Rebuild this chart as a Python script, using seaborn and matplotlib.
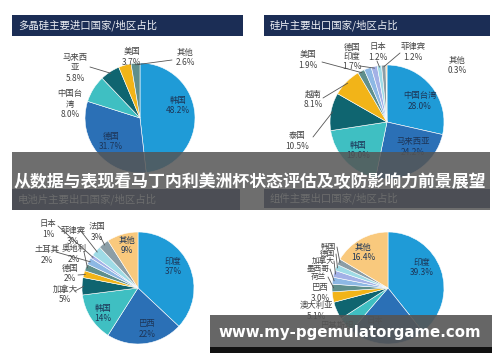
import matplotlib
matplotlib.use("Agg")
import numpy as np
import matplotlib.pyplot as plt
import seaborn as sns
from matplotlib.patches import Rectangle
from matplotlib.lines import Line2D

sns.set_theme(style="white")
plt.rcParams["font.family"] = ["Noto Sans CJK SC", "DejaVu Sans"]

# ---- data ----
poly_labels = ["韩国", "德国", "中国台湾", "马来西亚", "美国", "其他"]
poly_values = [48.2, 31.7, 8.0, 5.8, 3.7, 2.6]

wafer_labels = ["中国台湾", "马来西亚", "韩国", "泰国", "越南", "美国", "德国", "印度", "日本", "菲律宾", "其他"]
wafer_values = [28.0, 24.2, 19.0, 10.5, 8.1, 1.9, 2.0, 1.7, 1.2, 1.2, 0.3]

cell_labels = ["印度", "巴西", "韩国", "加拿大", "德国", "奥地利", "土耳其", "日本", "菲律宾", "法国", "其他"]
cell_values = [37, 22, 14, 5, 2, 2, 2, 1, 3, 3, 9]

module_labels = ["印度", "日本", "巴基斯坦", "澳大利亚", "巴西", "荷兰", "墨西哥", "加拿大", "德国", "韩国", "其他"]
module_values = [39.3, 22.0, 4.5, 5.1, 3.0, 2.2, 2.0, 2.0, 1.8, 1.7, 16.4]

titles = ["多晶硅主要进口国家/地区占比", "硅片主要出口国家/地区占比",
          "电池片主要出口国家/地区占比", "组件主要出口国家/地区占比"]

banner = "从数据与表现看马丁内利美洲杯状态评估及攻防影响力前景展望"
watermark = "www.my-pgemulatorgame.com"

palette = sns.color_palette(["#1f9bd7", "#2b70b6", "#3fbfc2", "#0f6570", "#f2b418",
                             "#5f8f8c", "#8db8e4", "#a3b1e6", "#9fdbe6", "#8c9ea6", "#f9c97d"])

W, H = 500, 362
fig = plt.figure(figsize=(W / 100, H / 100), dpi=100)
fig.patch.set_facecolor("white")


def fx(x):
    return x / W


def fy(y):
    return 1 - y / H


def draw_pie(values, cx, cy, r, colors):
    ax = fig.add_axes([fx(cx - 1.3 * r), fy(cy + 1.3 * r), 2.6 * r / W, 2.6 * r / H])
    wedges, _ = ax.pie(values, colors=colors, startangle=90, counterclock=False,
                       wedgeprops=dict(edgecolor="white", linewidth=0.4))
    ax.set_xlim(-1.3, 1.3)
    ax.set_ylim(-1.3, 1.3)
    ax.axis("off")
    return wedges


def edge_point(w, cx, cy, r):
    a = np.deg2rad((w.theta1 + w.theta2) / 2)
    return cx + r * np.cos(a), cy - r * np.sin(a)


def label(x, y, s, inside=False, size=6):
    fig.text(fx(x), fy(y), s, ha="center", va="center", fontsize=size,
             color="#1d3557" if inside else "#444444", linespacing=1.15, zorder=3)


def leader(x, y, w, cx, cy, r):
    ex, ey = edge_point(w, cx, cy, r * 0.97)
    fig.add_artist(Line2D([fx(x), fx(ex)], [fy(y), fy(ey)], transform=fig.transFigure,
                          color="#555555", lw=0.6, zorder=2))


# ---- pie 1 ----
c1 = (140, 118, 55)
w1 = draw_pie(poly_values, *c1, palette[:len(poly_values)])
pos1 = [(178, 105, True), (111, 141, True), (70, 104, False), (75, 68, False), (132, 57, False), (185, 57, False)]
for (x, y, ins), lab, v in zip(pos1, poly_labels, poly_values):
    txt = f"{lab}\n{v:.1f}%"
    if lab == "中国台湾":
        txt = f"中国台\n湾\n{v:.1f}%"
    if lab == "马来西亚":
        txt = f"马来西\n亚\n{v:.1f}%"
    label(x, y, txt, ins)
leader(90, 67, w1[3], *c1)
leader(172, 60, w1[5], *c1)

# ---- pie 2 ----
c2 = (387, 122, 57)
w2 = draw_pie(wafer_values, *c2, palette[:len(wafer_values)])
pos2 = [(420, 101, True), (413, 147, True), (358, 150, True), (297, 141, False), (313, 99, False),
        (308, 60, False), (352, 47, False), (352, 61, False), (378, 52, False), (413, 52, False), (457, 65, False)]
for (x, y, ins), lab, v in zip(pos2, wafer_labels, wafer_values):
    txt = lab if lab == "德国" else f"{lab}\n{v:.1f}%"
    label(x, y, txt, ins)
leader(313, 137, w2[3], *c2)
leader(323, 98, w2[4], *c2)
leader(322, 62, w2[5], *c2)
leader(360, 66, w2[7], *c2)
leader(377, 61, w2[8], *c2)
leader(400, 53, w2[9], *c2)

# ---- pie 3 ----
c3 = (138, 288, 56)
w3 = draw_pie(cell_values, *c3, palette[:len(cell_values)])
pos3 = [(173, 266, True), (147, 329, True), (103, 313, True), (65, 294, False), (70, 273, False),
        (74, 254, False), (47, 255, False), (48, 229, False), (73, 236, False), (97, 232, False), (127, 245, True)]
for (x, y, ins), lab, v in zip(pos3, cell_labels, cell_values):
    label(x, y, f"{lab}\n{v}%", ins)
for i, (sx, sy) in {3: (75, 291), 4: (78, 275), 5: (84, 252), 6: (56, 252),
                    7: (58, 226), 8: (80, 230), 9: (100, 236)}.items():
    leader(sx, sy, w3[i], *c3)

# ---- pie 4 ----
c4 = (388, 288, 56)
w4 = draw_pie(module_values, *c4, palette[:len(module_values)])
pos4 = [(422, 267, True), (375, 326, True), (338, 325, False), (316, 311, False), (320, 293, False),
        (318, 277, False), (318, 269, False), (323, 261, False), (327, 254, False), (328, 247, False),
        (363, 252, True)]
for (x, y, ins), lab, v in zip(pos4, module_labels, module_values):
    stacked = lab in ("荷兰", "墨西哥", "加拿大", "德国", "韩国")
    txt = f"{lab}\n{v:.1f}%" if lab in ("印度", "日本", "澳大利亚", "巴西", "其他") else lab
    label(x, y, txt, ins, size=5.5 if stacked else 6)
for i, (sx, sy) in {5: (328, 277), 6: (330, 269), 7: (334, 261), 8: (336, 254), 9: (337, 247)}.items():
    leader(sx, sy, w4[i], *c4)

# ---- title bars ----
bars = [(12, 15, 231, 21), (264, 15, 226, 21), (12, 189, 228, 21), (264, 189, 226, 19)]
for (x, y, w, h), t in zip(bars, titles):
    fig.add_artist(Rectangle((fx(x), fy(y + h)), w / W, h / H, transform=fig.transFigure,
                             facecolor="#1b2d55", edgecolor="none", zorder=2))
    fig.text(fx(x + 6), fy(y + h / 2), t, ha="left", va="center", fontsize=7.5,
             color="#eef0f5", zorder=3)

# ---- overlay banner ----
fig.add_artist(Rectangle((fx(12), fy(210)), 478 / W, 58 / H, transform=fig.transFigure,
                         facecolor="#555555", alpha=0.85, edgecolor="none", zorder=5))
fig.text(0.5, fy(182), banner, ha="center", va="center", fontsize=12.2, fontweight="bold",
         color="white", zorder=6)

# ---- watermark ----
fig.add_artist(Rectangle((fx(210), fy(347)), 282 / W, 32 / H, transform=fig.transFigure,
                         facecolor="#555555", alpha=0.9, edgecolor="none", zorder=5))
fig.add_artist(Rectangle((fx(210), fy(353)), 282 / W, 6 / H, transform=fig.transFigure,
                         facecolor="#111111", edgecolor="none", zorder=5))
fig.text(fx(350), fy(332), watermark, ha="center", va="center", fontsize=10.8,
         fontweight="bold", color="white", family="DejaVu Sans", zorder=6)

fig.savefig("out.png", dpi=100)
